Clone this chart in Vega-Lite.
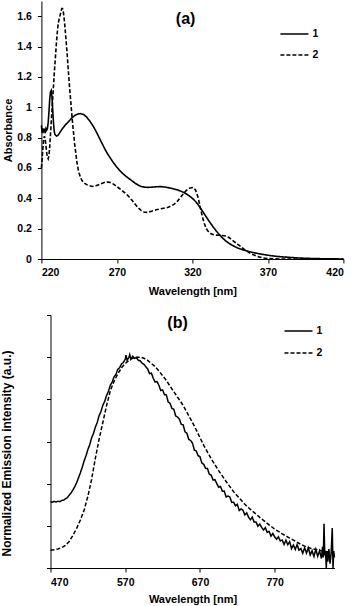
{
  "$schema": "https://vega.github.io/schema/vega-lite/v6.json",
  "padding": {"left": 0, "top": 1, "right": 0, "bottom": 0},
  "background": "white",
  "config": {
    "font": "Liberation Sans",
    "view": {"stroke": null},
    "axis": {
      "labelFont": "Liberation Sans", "labelFontWeight": "bold", "labelFontSize": 10.5, "labelColor": "#000",
      "titleFont": "Liberation Sans", "titleFontWeight": "bold", "titleFontSize": 11, "titleColor": "#000",
      "domainColor": "#000", "tickColor": "#000", "grid": false, "tickSize": 4, "domainWidth": 1, "tickWidth": 1,
      "labelOverlap": false, "tickCount": 20
    },
    "legend": {
      "labelFont": "Liberation Sans", "labelFontWeight": "bold", "labelFontSize": 10.5, "labelColor": "#000",
      "symbolType": "stroke", "symbolSize": 784, "symbolStrokeWidth": 1.6, "symbolStrokeColor": "#000", "labelOffset": 3
    }
  },
  "datasets": {
    "absorb": [
      {"wl":220,"abs":0.88,"series":"1"},{"wl":220.5,"abs":0.83,"series":"1"},{"wl":221,"abs":0.86,"series":"1"},{"wl":221.5,"abs":0.84,"series":"1"},{"wl":222,"abs":0.85,"series":"1"},{"wl":222.5,"abs":0.83,"series":"1"},{"wl":223,"abs":0.86,"series":"1"},{"wl":223.5,"abs":0.85,"series":"1"},{"wl":224,"abs":0.86,"series":"1"},{"wl":224.5,"abs":0.9,"series":"1"},{"wl":225,"abs":0.97,"series":"1"},{"wl":225.5,"abs":1.05,"series":"1"},{"wl":226,"abs":1.1,"series":"1"},{"wl":226.5,"abs":1.11,"series":"1"},{"wl":227,"abs":1.07,"series":"1"},{"wl":227.5,"abs":0.98,"series":"1"},{"wl":228,"abs":0.9,"series":"1"},{"wl":228.5,"abs":0.84,"series":"1"},{"wl":229,"abs":0.82,"series":"1"},{"wl":230,"abs":0.81,"series":"1"},{"wl":231,"abs":0.815,"series":"1"},{"wl":232,"abs":0.83,"series":"1"},{"wl":234,"abs":0.86,"series":"1"},{"wl":236,"abs":0.885,"series":"1"},{"wl":238,"abs":0.905,"series":"1"},{"wl":240,"abs":0.928,"series":"1"},{"wl":242,"abs":0.945,"series":"1"},{"wl":244,"abs":0.955,"series":"1"},{"wl":246,"abs":0.958,"series":"1"},{"wl":248,"abs":0.952,"series":"1"},{"wl":250,"abs":0.935,"series":"1"},{"wl":252,"abs":0.91,"series":"1"},{"wl":254,"abs":0.88,"series":"1"},{"wl":256,"abs":0.845,"series":"1"},{"wl":258,"abs":0.805,"series":"1"},{"wl":260,"abs":0.765,"series":"1"},{"wl":262,"abs":0.725,"series":"1"},{"wl":264,"abs":0.69,"series":"1"},{"wl":266,"abs":0.66,"series":"1"},{"wl":268,"abs":0.63,"series":"1"},{"wl":270,"abs":0.605,"series":"1"},{"wl":272,"abs":0.582,"series":"1"},{"wl":274,"abs":0.562,"series":"1"},{"wl":276,"abs":0.545,"series":"1"},{"wl":278,"abs":0.53,"series":"1"},{"wl":280,"abs":0.515,"series":"1"},{"wl":282,"abs":0.5,"series":"1"},{"wl":284,"abs":0.488,"series":"1"},{"wl":286,"abs":0.478,"series":"1"},{"wl":288,"abs":0.474,"series":"1"},{"wl":290,"abs":0.472,"series":"1"},{"wl":293,"abs":0.473,"series":"1"},{"wl":296,"abs":0.476,"series":"1"},{"wl":299,"abs":0.477,"series":"1"},{"wl":302,"abs":0.474,"series":"1"},{"wl":305,"abs":0.468,"series":"1"},{"wl":308,"abs":0.461,"series":"1"},{"wl":311,"abs":0.452,"series":"1"},{"wl":314,"abs":0.44,"series":"1"},{"wl":317,"abs":0.423,"series":"1"},{"wl":320,"abs":0.4,"series":"1"},{"wl":322,"abs":0.38,"series":"1"},{"wl":324,"abs":0.355,"series":"1"},{"wl":326,"abs":0.325,"series":"1"},{"wl":328,"abs":0.295,"series":"1"},{"wl":330,"abs":0.265,"series":"1"},{"wl":332,"abs":0.236,"series":"1"},{"wl":334,"abs":0.208,"series":"1"},{"wl":336,"abs":0.182,"series":"1"},{"wl":338,"abs":0.16,"series":"1"},{"wl":340,"abs":0.138,"series":"1"},{"wl":342,"abs":0.12,"series":"1"},{"wl":344,"abs":0.105,"series":"1"},{"wl":346,"abs":0.093,"series":"1"},{"wl":348,"abs":0.082,"series":"1"},{"wl":350,"abs":0.072,"series":"1"},{"wl":353,"abs":0.062,"series":"1"},{"wl":357,"abs":0.05,"series":"1"},{"wl":360,"abs":0.043,"series":"1"},{"wl":364,"abs":0.035,"series":"1"},{"wl":368,"abs":0.028,"series":"1"},{"wl":372,"abs":0.022,"series":"1"},{"wl":377,"abs":0.016,"series":"1"},{"wl":384,"abs":0.011,"series":"1"},{"wl":392,"abs":0.006,"series":"1"},{"wl":400,"abs":0.003,"series":"1"},{"wl":410,"abs":0.001,"series":"1"},{"wl":420,"abs":0.0,"series":"1"},
      {"wl":220,"abs":0.6,"series":"2"},{"wl":220.5,"abs":0.66,"series":"2"},{"wl":221,"abs":0.73,"series":"2"},{"wl":221.5,"abs":0.79,"series":"2"},{"wl":222,"abs":0.81,"series":"2"},{"wl":222.5,"abs":0.79,"series":"2"},{"wl":223,"abs":0.75,"series":"2"},{"wl":223.5,"abs":0.7,"series":"2"},{"wl":224,"abs":0.67,"series":"2"},{"wl":224.5,"abs":0.66,"series":"2"},{"wl":225,"abs":0.68,"series":"2"},{"wl":225.5,"abs":0.74,"series":"2"},{"wl":226,"abs":0.82,"series":"2"},{"wl":226.5,"abs":0.9,"series":"2"},{"wl":227,"abs":0.98,"series":"2"},{"wl":227.5,"abs":1.06,"series":"2"},{"wl":228,"abs":1.14,"series":"2"},{"wl":228.5,"abs":1.22,"series":"2"},{"wl":229,"abs":1.29,"series":"2"},{"wl":229.5,"abs":1.36,"series":"2"},{"wl":230,"abs":1.43,"series":"2"},{"wl":230.5,"abs":1.49,"series":"2"},{"wl":231,"abs":1.54,"series":"2"},{"wl":231.5,"abs":1.57,"series":"2"},{"wl":232,"abs":1.59,"series":"2"},{"wl":232.5,"abs":1.61,"series":"2"},{"wl":233,"abs":1.63,"series":"2"},{"wl":233.5,"abs":1.65,"series":"2"},{"wl":234,"abs":1.65,"series":"2"},{"wl":234.5,"abs":1.63,"series":"2"},{"wl":235,"abs":1.59,"series":"2"},{"wl":235.5,"abs":1.54,"series":"2"},{"wl":236,"abs":1.48,"series":"2"},{"wl":236.5,"abs":1.42,"series":"2"},{"wl":237,"abs":1.36,"series":"2"},{"wl":237.5,"abs":1.29,"series":"2"},{"wl":238,"abs":1.22,"series":"2"},{"wl":238.5,"abs":1.15,"series":"2"},{"wl":239,"abs":1.09,"series":"2"},{"wl":239.5,"abs":1.03,"series":"2"},{"wl":240,"abs":0.97,"series":"2"},{"wl":240.5,"abs":0.91,"series":"2"},{"wl":241,"abs":0.86,"series":"2"},{"wl":241.5,"abs":0.81,"series":"2"},{"wl":242,"abs":0.76,"series":"2"},{"wl":242.5,"abs":0.72,"series":"2"},{"wl":243,"abs":0.68,"series":"2"},{"wl":243.5,"abs":0.64,"series":"2"},{"wl":244,"abs":0.61,"series":"2"},{"wl":244.5,"abs":0.585,"series":"2"},{"wl":245,"abs":0.565,"series":"2"},{"wl":246,"abs":0.535,"series":"2"},{"wl":247,"abs":0.515,"series":"2"},{"wl":248,"abs":0.503,"series":"2"},{"wl":250,"abs":0.49,"series":"2"},{"wl":252,"abs":0.482,"series":"2"},{"wl":254,"abs":0.478,"series":"2"},{"wl":256,"abs":0.482,"series":"2"},{"wl":258,"abs":0.49,"series":"2"},{"wl":260,"abs":0.498,"series":"2"},{"wl":262,"abs":0.505,"series":"2"},{"wl":264,"abs":0.507,"series":"2"},{"wl":266,"abs":0.503,"series":"2"},{"wl":268,"abs":0.492,"series":"2"},{"wl":270,"abs":0.477,"series":"2"},{"wl":272,"abs":0.462,"series":"2"},{"wl":274,"abs":0.446,"series":"2"},{"wl":276,"abs":0.43,"series":"2"},{"wl":278,"abs":0.41,"series":"2"},{"wl":280,"abs":0.387,"series":"2"},{"wl":282,"abs":0.362,"series":"2"},{"wl":284,"abs":0.338,"series":"2"},{"wl":286,"abs":0.32,"series":"2"},{"wl":288,"abs":0.31,"series":"2"},{"wl":290,"abs":0.307,"series":"2"},{"wl":292,"abs":0.312,"series":"2"},{"wl":294,"abs":0.318,"series":"2"},{"wl":296,"abs":0.324,"series":"2"},{"wl":298,"abs":0.329,"series":"2"},{"wl":300,"abs":0.333,"series":"2"},{"wl":302,"abs":0.336,"series":"2"},{"wl":304,"abs":0.341,"series":"2"},{"wl":306,"abs":0.35,"series":"2"},{"wl":308,"abs":0.362,"series":"2"},{"wl":310,"abs":0.38,"series":"2"},{"wl":312,"abs":0.405,"series":"2"},{"wl":314,"abs":0.43,"series":"2"},{"wl":316,"abs":0.452,"series":"2"},{"wl":318,"abs":0.466,"series":"2"},{"wl":320,"abs":0.471,"series":"2"},{"wl":321,"abs":0.468,"series":"2"},{"wl":322,"abs":0.455,"series":"2"},{"wl":323,"abs":0.43,"series":"2"},{"wl":324,"abs":0.395,"series":"2"},{"wl":325,"abs":0.35,"series":"2"},{"wl":326,"abs":0.305,"series":"2"},{"wl":327,"abs":0.265,"series":"2"},{"wl":328,"abs":0.232,"series":"2"},{"wl":329,"abs":0.205,"series":"2"},{"wl":330,"abs":0.187,"series":"2"},{"wl":332,"abs":0.168,"series":"2"},{"wl":334,"abs":0.16,"series":"2"},{"wl":336,"abs":0.157,"series":"2"},{"wl":338,"abs":0.156,"series":"2"},{"wl":340,"abs":0.155,"series":"2"},{"wl":342,"abs":0.151,"series":"2"},{"wl":344,"abs":0.143,"series":"2"},{"wl":346,"abs":0.128,"series":"2"},{"wl":348,"abs":0.112,"series":"2"},{"wl":350,"abs":0.097,"series":"2"},{"wl":352,"abs":0.082,"series":"2"},{"wl":354,"abs":0.066,"series":"2"},{"wl":356,"abs":0.052,"series":"2"},{"wl":358,"abs":0.04,"series":"2"},{"wl":360,"abs":0.03,"series":"2"},{"wl":362,"abs":0.021,"series":"2"},{"wl":364,"abs":0.014,"series":"2"},{"wl":367,"abs":0.007,"series":"2"},{"wl":370,"abs":0.003,"series":"2"},{"wl":375,"abs":0.001,"series":"2"},{"wl":380,"abs":0,"series":"2"},{"wl":400,"abs":0,"series":"2"},{"wl":420,"abs":0,"series":"2"}
    ],
    "emission": [
      {"wl":470,"em":0.314,"series":"1"},{"wl":472.5,"em":0.312,"series":"1"},{"wl":475,"em":0.316,"series":"1"},{"wl":477.5,"em":0.313,"series":"1"},{"wl":480,"em":0.317,"series":"1"},{"wl":482.5,"em":0.315,"series":"1"},{"wl":485,"em":0.32,"series":"1"},{"wl":487.5,"em":0.322,"series":"1"},{"wl":490,"em":0.328,"series":"1"},{"wl":492.5,"em":0.334,"series":"1"},{"wl":495,"em":0.345,"series":"1"},{"wl":497.5,"em":0.356,"series":"1"},{"wl":500,"em":0.37,"series":"1"},{"wl":502.5,"em":0.386,"series":"1"},{"wl":505,"em":0.405,"series":"1"},{"wl":507.5,"em":0.428,"series":"1"},{"wl":510,"em":0.452,"series":"1"},{"wl":512.5,"em":0.478,"series":"1"},{"wl":515,"em":0.508,"series":"1"},{"wl":517.5,"em":0.532,"series":"1"},{"wl":520,"em":0.562,"series":"1"},{"wl":522.5,"em":0.585,"series":"1"},{"wl":525,"em":0.617,"series":"1"},{"wl":527.5,"em":0.638,"series":"1"},{"wl":530,"em":0.668,"series":"1"},{"wl":532.5,"em":0.69,"series":"1"},{"wl":535,"em":0.722,"series":"1"},{"wl":537.5,"em":0.742,"series":"1"},{"wl":540,"em":0.772,"series":"1"},{"wl":542.5,"em":0.79,"series":"1"},{"wl":545,"em":0.818,"series":"1"},{"wl":547.5,"em":0.838,"series":"1"},{"wl":550,"em":0.866,"series":"1"},{"wl":552.5,"em":0.882,"series":"1"},{"wl":555,"em":0.906,"series":"1"},{"wl":557.5,"em":0.918,"series":"1"},{"wl":560,"em":0.942,"series":"1"},{"wl":562.5,"em":0.95,"series":"1"},{"wl":565,"em":0.968,"series":"1"},{"wl":567.5,"em":0.975,"series":"1"},{"wl":570,"em":0.99,"series":"1"},{"wl":571,"em":1.01,"series":"1"},{"wl":572.5,"em":0.985,"series":"1"},{"wl":575,"em":1.0,"series":"1"},{"wl":576,"em":1.012,"series":"1"},{"wl":577.5,"em":0.99,"series":"1"},{"wl":580,"em":1.004,"series":"1"},{"wl":582.5,"em":0.994,"series":"1"},{"wl":585,"em":0.998,"series":"1"},{"wl":587.5,"em":0.985,"series":"1"},{"wl":590,"em":0.983,"series":"1"},{"wl":592.5,"em":0.972,"series":"1"},{"wl":595,"em":0.966,"series":"1"},{"wl":597.5,"em":0.955,"series":"1"},
      {"wl":600,"em":0.944,"series":"1"},{"wl":602.5,"em":0.922,"series":"1"},{"wl":605,"em":0.924,"series":"1"},{"wl":607.5,"em":0.9,"series":"1"},{"wl":610,"em":0.882,"series":"1"},{"wl":612.5,"em":0.884,"series":"1"},{"wl":615,"em":0.867,"series":"1"},{"wl":617.5,"em":0.842,"series":"1"},{"wl":620,"em":0.845,"series":"1"},{"wl":622.5,"em":0.822,"series":"1"},{"wl":625,"em":0.821,"series":"1"},{"wl":627.5,"em":0.787,"series":"1"},{"wl":630,"em":0.781,"series":"1"},{"wl":632.5,"em":0.757,"series":"1"},{"wl":635,"em":0.753,"series":"1"},{"wl":637.5,"em":0.721,"series":"1"},{"wl":640,"em":0.716,"series":"1"},{"wl":642.5,"em":0.706,"series":"1"},{"wl":645,"em":0.681,"series":"1"},{"wl":647.5,"em":0.679,"series":"1"},{"wl":650,"em":0.646,"series":"1"},{"wl":652.5,"em":0.639,"series":"1"},{"wl":655,"em":0.61,"series":"1"},{"wl":657.5,"em":0.605,"series":"1"},{"wl":660,"em":0.592,"series":"1"},{"wl":662.5,"em":0.559,"series":"1"},{"wl":665,"em":0.555,"series":"1"},{"wl":667.5,"em":0.533,"series":"1"},{"wl":670,"em":0.528,"series":"1"},{"wl":672.5,"em":0.498,"series":"1"},{"wl":675,"em":0.492,"series":"1"},{"wl":677.5,"em":0.4725,"series":"1"},{"wl":680,"em":0.472,"series":"1"},{"wl":682.5,"em":0.4445,"series":"1"},{"wl":685,"em":0.441,"series":"1"},{"wl":687.5,"em":0.4175,"series":"1"},{"wl":690,"em":0.419,"series":"1"},{"wl":692.5,"em":0.4005,"series":"1"},{"wl":695,"em":0.383,"series":"1"},{"wl":697.5,"em":0.387,"series":"1"},{"wl":700,"em":0.364,"series":"1"},{"wl":702.5,"em":0.3645,"series":"1"},{"wl":705,"em":0.337,"series":"1"},{"wl":707.5,"em":0.3415,"series":"1"},{"wl":710,"em":0.337,"series":"1"},{"wl":712.5,"em":0.311,"series":"1"},{"wl":715,"em":0.312,"series":"1"},{"wl":717.5,"em":0.295,"series":"1"},{"wl":720,"em":0.302,"series":"1"},{"wl":722.5,"em":0.273,"series":"1"},{"wl":725,"em":0.28,"series":"1"},{"wl":727.5,"em":0.274,"series":"1"},{"wl":730,"em":0.252,"series":"1"},{"wl":732.5,"em":0.2615,"series":"1"},{"wl":735,"em":0.241,"series":"1"},{"wl":737.5,"em":0.2285,"series":"1"},{"wl":740,"em":0.241,"series":"1"},{"wl":742.5,"em":0.2175,"series":"1"},{"wl":745,"em":0.218,"series":"1"},{"wl":747.5,"em":0.198,"series":"1"},{"wl":750,"em":0.208,"series":"1"},{"wl":752.5,"em":0.1925,"series":"1"},{"wl":755,"em":0.18,"series":"1"},{"wl":757.5,"em":0.1915,"series":"1"},{"wl":760,"em":0.169,"series":"1"},{"wl":762.5,"em":0.1735,"series":"1"},{"wl":765,"em":0.151,"series":"1"},{"wl":767.5,"em":0.164,"series":"1"},{"wl":770,"em":0.147,"series":"1"},{"wl":772.5,"em":0.1365,"series":"1"},{"wl":775,"em":0.148,"series":"1"},{"wl":777.5,"em":0.128,"series":"1"},{"wl":780,"em":0.133,"series":"1"},{"wl":782.5,"em":0.1115,"series":"1"},{"wl":785,"em":0.132,"series":"1"},{"wl":787.5,"em":0.1105,"series":"1"},{"wl":790,"em":0.125,"series":"1"},{"wl":792.5,"em":0.092,"series":"1"},{"wl":795,"em":0.109,"series":"1"},{"wl":797.5,"em":0.088,"series":"1"},{"wl":800,"em":0.111,"series":"1"},{"wl":802.5,"em":0.084,"series":"1"},{"wl":805,"em":0.092,"series":"1"},{"wl":807.5,"em":0.07,"series":"1"},{"wl":810,"em":0.096,"series":"1"},{"wl":812.5,"em":0.0705,"series":"1"},{"wl":815,"em":0.096,"series":"1"},{"wl":817.5,"em":0.0615,"series":"1"},{"wl":820,"em":0.082,"series":"1"},{"wl":822.5,"em":0.054,"series":"1"},{"wl":825,"em":0.089,"series":"1"},{"wl":827.5,"em":0.0555,"series":"1"},{"wl":830,"em":0.081,"series":"1"},{"wl":832.5,"em":0.045,"series":"1"},{"wl":834,"em":0.1,"series":"1"},{"wl":835,"em":0.05,"series":"1"},{"wl":836,"em":0.21,"series":"1"},{"wl":837,"em":0.06,"series":"1"},{"wl":838,"em":0.08,"series":"1"},{"wl":839,"em":0.0,"series":"1"},{"wl":840,"em":0.08,"series":"1"},{"wl":841,"em":0.03,"series":"1"},{"wl":842.5,"em":0.09,"series":"1"},{"wl":844,"em":0.02,"series":"1"},{"wl":845.5,"em":0.07,"series":"1"},{"wl":847,"em":0.19,"series":"1"},{"wl":848,"em":0.0,"series":"1"},{"wl":849,"em":0.08,"series":"1"},{"wl":850,"em":0.05,"series":"1"},
      {"wl":470,"em":0.084,"series":"2"},{"wl":475,"em":0.086,"series":"2"},{"wl":480,"em":0.09,"series":"2"},{"wl":485,"em":0.097,"series":"2"},{"wl":490,"em":0.107,"series":"2"},{"wl":495,"em":0.126,"series":"2"},{"wl":500,"em":0.155,"series":"2"},{"wl":505,"em":0.188,"series":"2"},{"wl":510,"em":0.228,"series":"2"},{"wl":515,"em":0.275,"series":"2"},{"wl":520,"em":0.34,"series":"2"},{"wl":525,"em":0.42,"series":"2"},{"wl":530,"em":0.52,"series":"2"},{"wl":535,"em":0.61,"series":"2"},{"wl":540,"em":0.69,"series":"2"},{"wl":545,"em":0.77,"series":"2"},{"wl":550,"em":0.84,"series":"2"},{"wl":555,"em":0.885,"series":"2"},{"wl":560,"em":0.92,"series":"2"},{"wl":565,"em":0.95,"series":"2"},{"wl":570,"em":0.97,"series":"2"},{"wl":575,"em":0.985,"series":"2"},{"wl":580,"em":0.995,"series":"2"},{"wl":585,"em":1.0,"series":"2"},{"wl":590,"em":1.0,"series":"2"},{"wl":595,"em":0.995,"series":"2"},{"wl":600,"em":0.985,"series":"2"},{"wl":605,"em":0.97,"series":"2"},{"wl":610,"em":0.955,"series":"2"},{"wl":615,"em":0.935,"series":"2"},{"wl":620,"em":0.912,"series":"2"},{"wl":625,"em":0.89,"series":"2"},{"wl":630,"em":0.862,"series":"2"},{"wl":635,"em":0.836,"series":"2"},{"wl":640,"em":0.81,"series":"2"},{"wl":645,"em":0.785,"series":"2"},{"wl":650,"em":0.755,"series":"2"},{"wl":655,"em":0.722,"series":"2"},{"wl":660,"em":0.69,"series":"2"},{"wl":665,"em":0.655,"series":"2"},{"wl":670,"em":0.618,"series":"2"},{"wl":675,"em":0.582,"series":"2"},{"wl":680,"em":0.55,"series":"2"},{"wl":685,"em":0.518,"series":"2"},{"wl":690,"em":0.49,"series":"2"},{"wl":695,"em":0.462,"series":"2"},{"wl":700,"em":0.436,"series":"2"},{"wl":705,"em":0.41,"series":"2"},{"wl":710,"em":0.386,"series":"2"},{"wl":715,"em":0.362,"series":"2"},{"wl":720,"em":0.342,"series":"2"},{"wl":725,"em":0.322,"series":"2"},{"wl":730,"em":0.302,"series":"2"},{"wl":735,"em":0.286,"series":"2"},{"wl":740,"em":0.27,"series":"2"},{"wl":745,"em":0.256,"series":"2"},{"wl":750,"em":0.24,"series":"2"},{"wl":755,"em":0.226,"series":"2"},{"wl":760,"em":0.212,"series":"2"},{"wl":765,"em":0.198,"series":"2"},{"wl":770,"em":0.184,"series":"2"},{"wl":775,"em":0.174,"series":"2"},{"wl":780,"em":0.162,"series":"2"},{"wl":785,"em":0.152,"series":"2"},{"wl":790,"em":0.142,"series":"2"},{"wl":795,"em":0.132,"series":"2"},{"wl":800,"em":0.122,"series":"2"},{"wl":805,"em":0.112,"series":"2"},{"wl":810,"em":0.104,"series":"2"},{"wl":815,"em":0.097,"series":"2"},{"wl":820,"em":0.091,"series":"2"},{"wl":825,"em":0.088,"series":"2"},{"wl":830,"em":0.084,"series":"2"},{"wl":835,"em":0.08,"series":"2"},{"wl":840,"em":0.077,"series":"2"},{"wl":845,"em":0.075,"series":"2"},{"wl":848,"em":0.072,"series":"2"}
    ]
  },
  "align": "each",
  "center": true,
  "spacing": 17,
  "resolve": {"scale": {"strokeDash": "independent"}, "legend": {"strokeDash": "independent"}},
  "vconcat": [
    {
      "width": 302,
      "height": 258,
      "layer": [
        {
          "data": {"name": "absorb"},
          "mark": {"type": "line", "strokeWidth": 1.6, "color": "#000"},
          "encoding": {
            "x": {"field": "wl", "type": "quantitative", "scale": {"domain": [220, 420], "nice": false},
                  "axis": {"values": [220, 270, 320, 370, 420], "title": "Wavelength [nm]", "labelPadding": 4, "titlePadding": 8, "labelOverlap": false, "tickCount": 20}},
            "y": {"field": "abs", "type": "quantitative", "scale": {"domain": [0, 1.7], "nice": false},
                  "axis": {"values": [0, 0.2, 0.4, 0.6, 0.8, 1, 1.2, 1.4, 1.6], "format": "~g", "title": "Absorbance", "labelPadding": 6, "titlePadding": 3, "labelOverlap": false, "tickCount": 20}},
            "strokeDash": {"field": "series", "type": "nominal",
                           "scale": {"domain": ["1", "2"], "range": [[1, 0], [4, 2]]},
                           "legend": {"title": null, "orient": "none", "legendX": 238, "legendY": 18, "rowPadding": -2.6}}
          }
        },
        {
          "data": {"values": [{"label": "(a)"}]},
          "mark": {"type": "text", "fontSize": 16, "fontWeight": "bold", "font": "Liberation Sans", "color": "#000"},
          "encoding": {"x": {"datum": 315.5}, "y": {"datum": 1.583}, "text": {"field": "label"}}
        }
      ]
    },
    {
      "width": 284,
      "height": 253,
      "layer": [
        {
          "data": {"name": "emission"},
          "mark": {"type": "line", "strokeWidth": 1.5, "color": "#000"},
          "encoding": {
            "x": {"field": "wl", "type": "quantitative", "scale": {"domain": [470, 850], "nice": false},
                  "axis": {"values": [470, 570, 670, 770], "title": "Wavelength [nm]", "labelPadding": 5, "titlePadding": 6, "labelOverlap": false, "tickCount": 20}},
            "y": {"field": "em", "type": "quantitative", "scale": {"domain": [0, 1.2], "nice": false},
                  "axis": {"values": [0, 0.2, 0.4, 0.6, 0.8, 1, 1.2], "labels": false, "tickCount": 20, "title": "Normalized Emission intensity (a.u.)", "titleFontSize": 12, "titlePadding": 33, "titleY": 138}},
            "strokeDash": {"field": "series", "type": "nominal",
                           "scale": {"domain": ["1", "2"], "range": [[1, 0], [4, 2]]},
                           "legend": {"title": null, "orient": "none", "legendX": 233, "legendY": 1, "rowPadding": 1}}
          }
        },
        {
          "data": {"values": [{"label": "(b)"}]},
          "mark": {"type": "text", "fontSize": 16, "fontWeight": "bold", "font": "Liberation Sans", "color": "#000"},
          "encoding": {"x": {"datum": 640}, "y": {"datum": 1.16}, "text": {"field": "label"}}
        }
      ]
    }
  ]
}
